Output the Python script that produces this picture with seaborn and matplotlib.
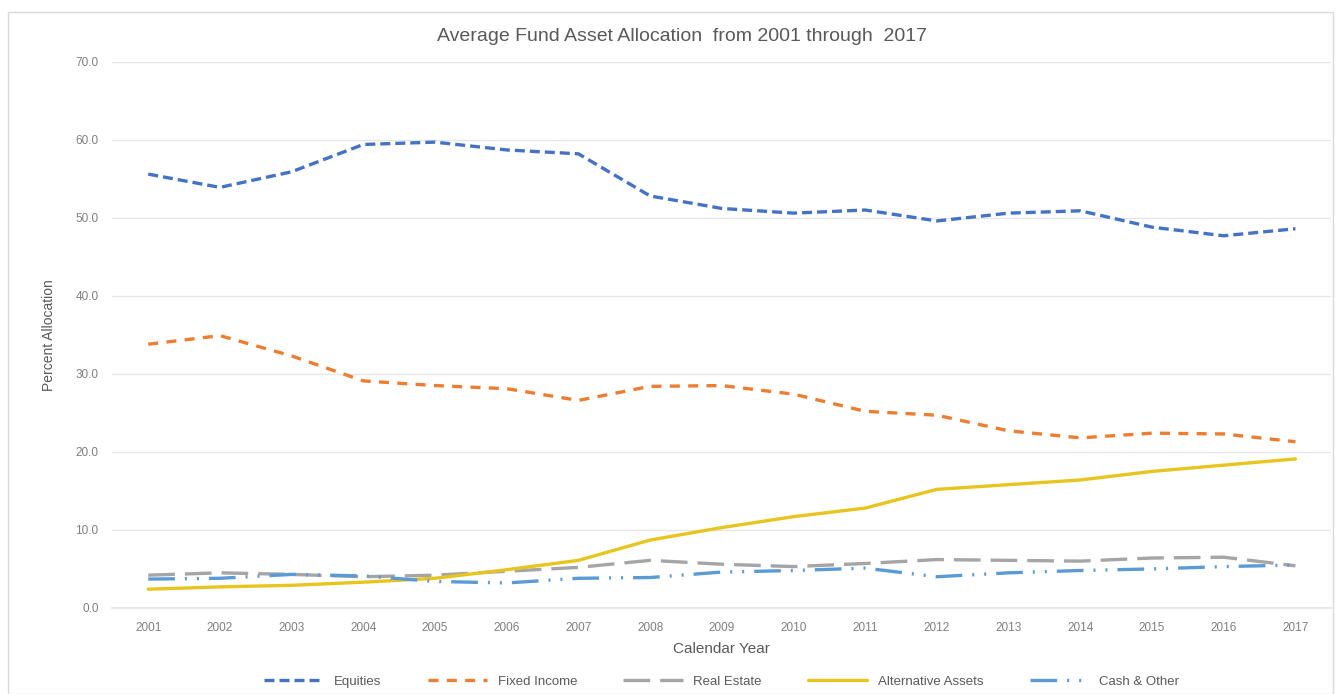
import numpy as np
import pandas as pd
import matplotlib
matplotlib.use("Agg")
import matplotlib.pyplot as plt
import seaborn as sns
from matplotlib.patches import Rectangle

# values (percent allocation)
years = list(range(2001, 2018))
equities = [55.6, 53.9, 55.9, 59.4, 59.7, 58.7, 58.2, 52.8, 51.2, 50.6, 51.0, 49.6, 50.6, 50.9, 48.8, 47.7, 48.6]
fixed_income = [33.8, 34.9, 32.3, 29.1, 28.5, 28.1, 26.6, 28.4, 28.5, 27.4, 25.2, 24.7, 22.7, 21.8, 22.4, 22.3, 21.3]
real_estate = [4.2, 4.5, 4.3, 4.0, 4.2, 4.7, 5.2, 6.1, 5.6, 5.3, 5.7, 6.2, 6.1, 6.0, 6.4, 6.5, 5.4]
alternative = [2.4, 2.7, 2.9, 3.3, 3.8, 4.9, 6.1, 8.7, 10.3, 11.7, 12.8, 15.2, 15.8, 16.4, 17.5, 18.3, 19.1]
cash_other = [3.7, 3.8, 4.3, 4.1, 3.4, 3.2, 3.8, 3.9, 4.6, 4.8, 5.1, 4.0, 4.5, 4.8, 5.0, 5.3, 5.5]

series_names = ["Equities", "Fixed Income", "Real Estate", "Alternative Assets", "Cash & Other"]
series_values = [equities, fixed_income, real_estate, alternative, cash_other]
y_ticks = [0, 10, 20, 30, 40, 50, 60, 70]

colors = {
    "Equities": "#4472C4",
    "Fixed Income": "#ED7D31",
    "Real Estate": "#A5A5A5",
    "Alternative Assets": "#E8C51E",
    "Cash & Other": "#5B9BD5",
}
dashes = {
    "Equities": (3, 1.5),
    "Fixed Income": (3, 2.5),
    "Real Estate": (8, 3),
    "Alternative Assets": "",
    "Cash & Other": (8, 3, 0.6, 3, 0.6, 3),
}

df = pd.DataFrame(
    [(name, yr, v) for name, vals in zip(series_names, series_values) for yr, v in zip(years, vals)],
    columns=["Series", "Year", "Value"],
)

sns.set_theme(style="white")
plt.rcParams["font.family"] = ["Liberation Sans", "DejaVu Sans"]

fig = plt.figure(figsize=(13.38, 6.94), dpi=100)
ax = fig.add_axes([0.084, 0.124, 0.911, 0.787])

sns.lineplot(
    data=df, x="Year", y="Value", hue="Series", style="Series",
    hue_order=series_names, style_order=series_names,
    palette=colors, dashes=dashes, linewidth=2.4, ax=ax, legend=True,
)

ax.set_xlim(2000.5, 2017.5)
ax.set_ylim(0, 70)
ax.set_xticks(years)
ax.set_xticklabels([str(y) for y in years], fontsize=8.5, color="#7F7F7F")
ax.set_yticks(y_ticks)
ax.set_yticklabels([f"{t:.1f}" for t in y_ticks], fontsize=8.5, color="#7F7F7F")
ax.tick_params(axis="both", length=0, pad=10)
ax.grid(axis="y", color="#E6E6E6", linewidth=1)
for s in ["top", "right", "left"]:
    ax.spines[s].set_visible(False)
ax.spines["bottom"].set_color("#E6E6E6")

ax.set_xlabel("Calendar Year", fontsize=11, color="#595959", labelpad=6)
ax.set_ylabel("Percent Allocation", fontsize=10, color="#595959", labelpad=14)
fig.text(0.51, 0.947, "Average Fund Asset Allocation  from 2001 through  2017",
         ha="center", va="center", fontsize=14, color="#595959")

handles, labels = ax.get_legend_handles_labels()
ax.legend(handles, labels, loc="center", bbox_to_anchor=(0.5, -0.135), ncol=5,
          frameon=False, fontsize=9.5, labelcolor="#595959", handlelength=4.5,
          columnspacing=3.5)

fig.patches.append(Rectangle((0.006, 0.0), 0.99, 0.982, transform=fig.transFigure,
                             fill=False, edgecolor="#D9D9D9", linewidth=1))

fig.savefig("out.png", dpi=100)
